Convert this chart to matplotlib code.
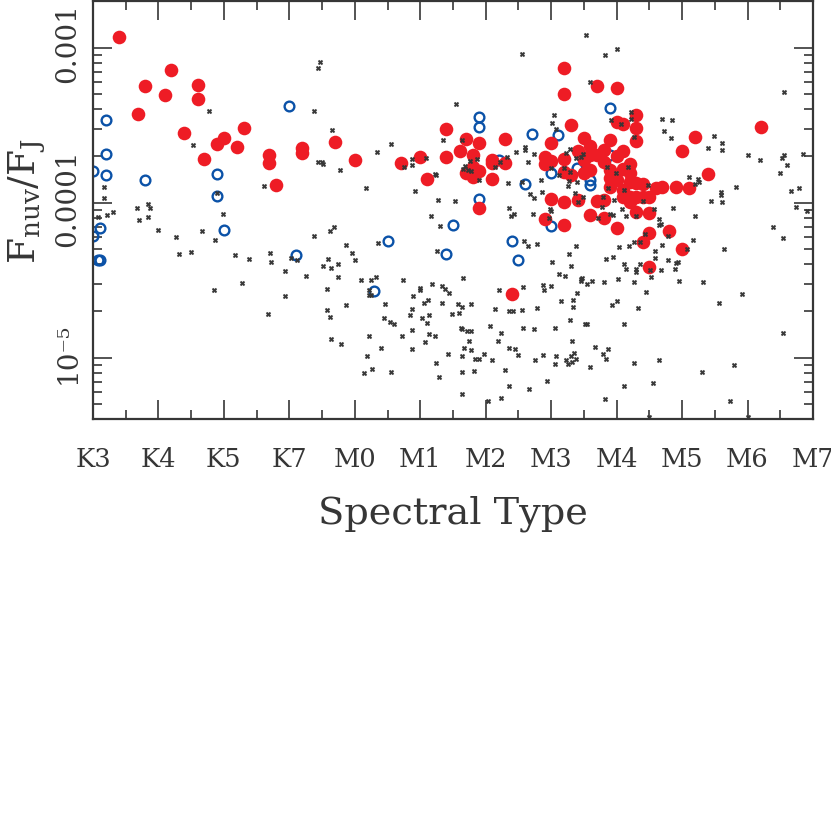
import numpy as np
import matplotlib
matplotlib.use('Agg')
import matplotlib.pyplot as plt
from matplotlib.ticker import FixedLocator, NullFormatter
from matplotlib.transforms import ScaledTranslation

plt.rcParams['font.family'] = ['DejaVu Serif']
plt.rcParams['mathtext.fontset'] = 'dejavuserif'

# spectral type is the position along the axis (0 = K3, 1 = K4, ...)
spectral_labels = ['K3', 'K4', 'K5', 'K7', 'M0', 'M1', 'M2', 'M3', 'M4', 'M5', 'M6', 'M7']

# detections, log10(Fnuv/FJ)
red_type = [
    0.39, 1.19, 0.79, 1.10, 1.60, 1.60, 0.69, 1.39, 2.30, 2.00, 1.89, 2.20, 1.70, 2.69, 2.69,
    3.19, 3.19, 2.80, 3.69, 4.00, 4.70, 5.00, 5.10, 5.40, 5.40, 5.70, 5.60, 5.90, 5.80, 5.70,
    5.80, 5.80, 5.90, 6.10, 6.10, 6.10, 6.30, 6.30, 5.90, 7.20, 7.20, 7.30, 7.00, 7.50, 6.90,
    6.90, 7.00, 7.20, 7.41, 7.20, 7.00, 7.20, 7.41, 7.31, 6.90, 7.20, 6.40, 7.70, 8.00, 8.30,
    8.00, 8.10, 8.30, 10.20, 9.20, 7.90, 8.30, 9.00, 7.60, 8.10, 8.00, 7.80, 7.70, 7.80, 7.60,
    7.50, 8.20, 9.40, 7.60, 7.50, 7.90, 8.10, 8.20, 7.90, 8.00, 8.20, 8.30, 8.40, 8.60, 8.70,
    8.90, 9.10, 7.90, 8.10, 8.10, 8.20, 8.30, 8.40, 8.50, 8.20, 7.70, 7.80, 7.60, 7.80, 8.00,
    8.30, 8.50, 8.50, 8.80, 8.40, 9.00, 8.50,
]
red_log = [
    -2.934, -3.144, -3.251, -3.303, -3.243, -3.333, -3.430, -3.554, -3.518, -3.582, -3.623, -3.644, -3.720, -3.696, -3.747,
    -3.647, -3.683, -3.889, -3.608, -3.722, -3.744, -3.709, -3.850, -3.526, -3.707, -3.589, -3.666, -3.615, -3.694, -3.812,
    -3.769, -3.834, -3.795, -3.850, -3.726, -3.747, -3.589, -3.744, -4.037, -3.135, -3.301, -3.501, -3.617, -3.582, -3.709,
    -3.752, -3.733, -3.718, -3.668, -3.801, -3.977, -3.997, -3.984, -3.823, -4.108, -4.147, -4.591, -3.249, -3.264, -3.434,
    -3.481, -3.490, -3.522, -3.514, -3.578, -3.593, -3.602, -3.666, -3.634, -3.666, -3.698, -3.662, -3.694, -3.737, -3.694,
    -3.726, -3.752, -3.814, -3.790, -3.812, -3.790, -3.780, -3.812, -3.844, -3.855, -3.866, -3.876, -3.881, -3.908, -3.898,
    -3.898, -3.908, -3.902, -3.919, -3.963, -3.963, -3.966, -3.963, -3.966, -3.995, -3.990, -3.984, -4.080, -4.102, -4.162,
    -4.059, -4.070, -4.198, -4.182, -4.256, -4.300, -4.417,
]

# open circles
blue_type = [
    0.2, 0.2, 0.0, 0.2, 0.8, 1.9, 1.9, 3.0, 0.1, 0.0, 0.1, 0.08, 2.0, 3.1, 5.9, 5.9, 6.7,
    7.1, 7.0, 6.6, 6.2, 7.4, 5.9, 5.5, 4.5, 6.4, 5.4, 6.5, 4.3, 7.0, 7.9, 7.6, 7.6, 7.9,
]
blue_log = [
    -3.468, -3.689, -3.795, -3.821, -3.855, -3.816, -3.956, -3.374, -4.166, -4.216, -4.372, -4.367, -4.177, -4.338, -3.447, -3.513, -3.557,
    -3.563, -3.812, -3.881, -3.726, -3.776, -3.977, -4.147, -4.248, -4.250, -4.330, -4.368, -4.568, -4.153, -3.393, -3.887, -3.855, -3.694,
]

# small black points
star_type = [
    3.47, 3.44, 3.37, 1.77, 3.65, 1.53, 3.44, 3.50, 3.52, 2.62, 0.17, 0.17, 0.84, 0.67, 0.87, 1.90,
    0.07, 0.22, 0.31, 0.84, 0.70, 1.98, 1.00, 1.67, 1.27, 1.87, 1.32, 1.50, 2.17, 2.38, 2.70, 2.72,
    2.94, 3.02, 3.11, 3.25, 3.38, 3.62, 3.68, 3.59, 3.52, 3.63, 3.57, 3.57, 3.62, 3.63, 2.27, 1.85,
    2.93, 2.67,
    6.56, 7.53, 5.54, 7.04, 7.01, 7.08, 5.34, 5.63, 4.55, 4.34, 7.29, 6.46, 6.60, 6.60, 6.74, 6.32,
    5.86, 5.76, 6.64, 6.22, 6.14, 5.69, 5.65, 5.73, 5.78, 4.88, 5.09, 4.75, 4.88, 3.77, 5.23, 5.24,
    5.89, 6.34, 4.17, 4.92, 5.27, 5.53, 6.56, 6.67, 6.73, 6.86, 6.84, 6.35, 6.98, 7.23, 7.38, 7.46,
    7.48, 7.00, 7.20, 7.28, 7.12, 7.27, 7.26, 7.39, 7.37, 7.41, 7.49,
    5.17, 5.30, 6.38, 6.43, 6.72, 6.99, 6.96, 3.87, 4.36, 3.96, 4.00, 3.74, 3.74, 5.25, 6.58, 6.65,
    6.79, 7.38, 7.27, 7.02, 7.31, 7.12, 7.21, 7.47, 7.45, 5.66, 4.74, 4.09, 4.24, 4.32, 4.21, 4.21,
    4.25, 3.87, 4.46, 5.18, 4.99, 4.99, 5.33, 5.38, 5.44, 4.89, 5.12, 5.05, 5.33, 5.57, 5.63, 5.78,
    4.88, 4.85, 5.14, 5.49, 5.59, 6.14, 6.35, 6.42, 6.56, 6.79, 6.20, 6.57, 6.87, 6.89, 7.00, 7.39,
    7.15, 7.33, 7.34, 7.28, 7.52, 4.45, 4.54, 4.60, 5.02, 5.11, 4.87, 4.22, 4.72, 5.13, 5.23, 5.07,
    5.62, 5.64, 5.72, 5.78, 6.06, 6.23, 6.19, 5.75, 6.57, 6.73, 7.06, 7.32, 3.79, 4.40, 4.88, 5.67,
    5.78, 6.35, 6.44, 6.50, 4.19, 5.43, 5.64, 5.98, 5.84, 5.90, 6.10, 6.76, 6.88, 7.08, 7.06, 7.22,
    7.30, 7.35, 7.38, 7.26, 7.32, 5.24, 4.14, 4.27, 4.56, 5.63, 5.82, 6.29, 5.28, 6.36, 6.93, 6.66,
    5.63, 6.24, 6.04,
    8.00, 7.82, 7.60, 10.55, 8.22, 8.22, 7.92, 8.07, 8.69, 8.84, 8.73, 8.83, 8.27, 9.49, 9.61, 9.40,
    9.61, 10.00, 10.19, 10.55, 10.52, 10.85, 10.61, 10.50, 7.85, 7.99, 8.18, 9.11, 9.24, 9.19, 9.26, 8.48,
    7.87, 8.12, 9.83, 9.60, 9.60, 10.66, 10.79, 9.44, 9.61, 8.40, 7.96, 7.79, 7.77, 8.08, 10.74, 8.86,
    8.57,
    10.91, 7.72, 7.90, 7.95, 8.14, 8.30, 8.64, 9.19, 8.64, 8.68, 8.43, 8.79, 10.39, 10.54, 9.16, 8.04,
    8.19, 8.27, 8.36, 8.69, 8.59, 9.07, 9.64, 7.95, 7.84, 8.59, 8.79, 8.12, 8.36, 8.90, 8.93, 8.14,
    8.30, 8.30, 8.51, 8.68, 8.89, 8.52, 7.46, 7.62, 7.54, 7.80, 8.02, 8.26, 8.96, 9.32, 8.45, 9.92,
    8.01, 7.93, 8.32, 9.56, 7.54, 8.12, 10.54, 7.67, 7.87, 7.79, 7.83, 7.60, 8.27, 8.64, 9.80, 9.30,
    8.11, 8.55, 7.82, 9.73, 8.50, 10.00,
]
star_log = [
    -3.095, -3.133, -3.408, -3.412, -3.533, -3.629, -3.737, -3.735, -3.750, -3.894, -3.900, -3.973, -4.008, -4.037, -4.037, -3.939,
    -4.095, -4.080, -4.063, -4.091, -4.113, -4.076, -4.175, -4.182, -4.222, -4.240, -4.332, -4.319, -4.338, -4.366, -4.323, -4.381,
    -4.439, -4.359, -4.372, -4.473, -4.218, -4.184, -4.158, -4.364, -4.407, -4.422, -4.557, -4.691, -4.740, -4.878, -4.519, -4.566,
    -4.600, -4.718,
    -3.041, -2.919, -3.367, -3.434, -3.488, -3.526, -3.593, -3.597, -3.625, -3.675, -3.655, -3.675, -3.642, -3.660, -3.687, -3.705,
    -3.720, -3.731, -3.735, -3.737, -3.771, -3.765, -3.784, -3.791, -3.795, -3.718, -3.713, -3.771, -3.756, -3.789, -3.816, -3.825,
    -3.855, -3.876, -3.907, -3.928, -3.982, -3.992, -3.870, -3.947, -3.971, -3.932, -3.855, -4.033, -4.044, -3.683, -3.711, -3.709,
    -3.686, -3.776, -3.776, -3.802, -3.823, -3.863, -3.894, -3.866, -3.939, -3.999, -3.963,
    -4.087, -4.151, -4.087, -4.074, -4.072, -4.053, -4.098, -4.274, -4.259, -4.325, -4.370, -4.394, -4.478, -4.314, -4.250, -4.282,
    -4.267, -4.280, -4.330, -4.383, -4.409, -4.461, -4.474, -4.486, -4.504, -4.488, -4.499, -4.501, -4.497, -4.478, -4.564, -4.596,
    -4.596, -4.660, -4.652, -4.525, -4.549, -4.564, -4.540, -4.555, -4.581, -4.602, -4.626, -4.647, -4.649, -4.652, -4.675, -4.654,
    -4.686, -4.725, -4.723, -4.716, -4.714, -4.684, -4.697, -4.701, -4.693, -4.678, -4.566, -4.546, -4.530, -4.562, -4.540, -4.583,
    -4.635, -4.626, -4.673, -4.759, -4.783, -4.746, -4.772, -4.783, -4.746, -4.776, -4.820, -4.858, -4.858, -4.849, -4.860, -4.899,
    -4.807, -4.817, -4.830, -4.828, -4.796, -4.839, -4.890, -4.890, -4.809, -4.817, -4.810, -4.890, -4.914, -4.935, -4.942, -4.937,
    -4.948, -4.939, -4.942, -4.984, -4.987, -4.976, -4.991, -4.974, -5.006, -5.006, -5.017, -5.015, -4.981, -4.987, -5.042, -5.013,
    -4.987, -4.972, -5.010, -5.039, -5.030, -5.032, -5.100, -5.071, -5.090, -5.094, -5.088, -5.081, -5.124, -5.180, -5.152, -5.203,
    -5.232, -5.260, -5.281,
    -3.011, -3.045, -3.224, -3.286, -3.417, -3.464, -3.470, -3.494, -3.462, -3.466, -3.541, -3.582, -3.576, -3.571, -3.615, -3.647,
    -3.660, -3.696, -3.722, -3.694, -3.713, -3.686, -3.758, -3.810, -3.769, -3.808, -3.771, -3.834, -3.850, -3.879, -3.868, -3.887,
    -3.905, -3.917, -3.898, -3.930, -3.951, -3.928, -3.907, -3.990, -3.995, -3.990, -3.986, -3.965, -4.029, -4.040, -4.027, -4.037,
    -4.044,
    -4.053, -4.098, -4.076, -4.080, -4.085, -4.087, -4.104, -4.085, -4.145, -4.138, -4.201, -4.218, -4.160, -4.231, -4.240, -4.289,
    -4.280, -4.256, -4.252, -4.276, -4.312, -4.300, -4.300, -4.349, -4.362, -4.357, -4.368, -4.396, -4.396, -4.392, -4.385, -4.430,
    -4.430, -4.448, -4.433, -4.437, -4.428, -4.478, -4.493, -4.506, -4.525, -4.514, -4.493, -4.512, -4.504, -4.510, -4.577, -4.591,
    -4.637, -4.658, -4.680, -4.646, -4.783, -4.783, -4.843, -4.931, -4.946, -4.976, -5.008, -5.060, -5.036, -5.017, -5.047, -5.094,
    -5.180, -5.163, -5.264, -5.281, -5.382, -5.382,
]

dark = '#363636'
fig = plt.figure(figsize=(8.31, 8.14), dpi=100)
ax = fig.add_axes([93 / 831, 1 - 419 / 814, 720 / 831, 418 / 814])

ax.plot(blue_type, 10 ** np.array(blue_log), 'o', mfc='none', mec='#0b52a8', ms=7, mew=1.7, zorder=2)
ax.plot(red_type, 10 ** np.array(red_log), 'o', mfc='#ee1c25', mec='#ee1c25', ms=9.8, mew=0, zorder=3)
ax.plot(star_type, 10 ** np.array(star_log), 'X', color=dark, ms=3.5, mew=0.25, zorder=4)

ax.set_yscale('log')
ax.set_xlim(0, 11)
ax.set_ylim(10 ** -5.395, 10 ** -2.70)

ax.set_xticks(np.arange(12))
ax.set_xticklabels(spectral_labels, fontsize=18.5)
ax.set_xticks(np.arange(0.5, 11), minor=True)

decades = [1e-5, 1e-4, 1e-3]
ax.yaxis.set_major_locator(FixedLocator(decades))
ax.set_yticklabels(['10\u207b\u2075', '0.0001', '0.001'], rotation=90, va='center', fontsize=20)
minor = [m * d for d in [1e-6, 1e-5, 1e-4, 1e-3] for m in range(2, 10)]
ax.yaxis.set_minor_locator(FixedLocator(minor))
ax.yaxis.set_minor_formatter(NullFormatter())

ax.tick_params(which='both', direction='in', top=True, right=True, color=dark, width=1.2, labelcolor=dark)
ax.tick_params(which='major', length=13.7)
ax.tick_params(which='minor', length=6.7)
ax.tick_params(axis='x', which='major', pad=20)
ax.tick_params(axis='y', which='major', pad=8.5)

# rotated labels sit a little low otherwise
nudge = ScaledTranslation(0, 4.5 / 100, fig.dpi_scale_trans)
for lab in ax.get_yticklabels():
    lab.set_transform(lab.get_transform() + nudge)

for s in ax.spines.values():
    s.set_linewidth(1.6)
    s.set_color(dark)

ax.set_xlabel('Spectral Type', fontsize=27.5, color=dark, va='top')
ax.xaxis.set_label_coords(0.5, -0.182)
ax.set_ylabel(r'$\mathrm{F_{nuv}/F_{J}}$', fontsize=27, color=dark)
ax.yaxis.set_label_coords(-0.063, 0.521)

fig.savefig('out.png', dpi=100)
